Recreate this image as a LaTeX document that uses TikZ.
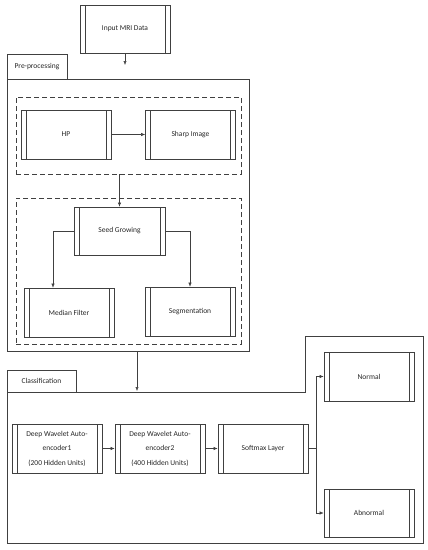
\documentclass[tikz,border=0pt]{standalone}
\usepackage{fontspec}
\setmainfont{Carlito}
\usetikzlibrary{arrows.meta}
\definecolor{ln}{HTML}{404040}
\tikzset{
  proc/.style={draw=ln, line width=0.6pt, minimum width=90pt, minimum height=49pt,
    inner sep=1pt, align=center, text=black!85,
    font=\fontsize{7.5}{14.5}\selectfont,
    path picture={
      \draw[ln, line width=0.5pt] ([xshift=5pt]path picture bounding box.north west) -- ([xshift=5pt]path picture bounding box.south west);
      \draw[ln, line width=0.5pt] ([xshift=-5pt]path picture bounding box.north east) -- ([xshift=-5pt]path picture bounding box.south east);
    }},
  grp/.style={draw=ln, line width=0.6pt},
  dbox/.style={draw=ln, line width=0.6pt, dash pattern=on 5pt off 3pt},
  tab/.style={draw=ln, line width=0.6pt, font=\fontsize{7.5}{9}\selectfont, text=black!85},
  arr/.style={draw=ln, line width=0.5pt, -{Latex[length=4pt,width=3.2pt]}},
  con/.style={draw=ln, line width=0.5pt},
}
\begin{document}
\begin{tikzpicture}[x=1pt,y=-1pt]
\useasboundingbox (0,0) rectangle (428,550);

% Pre-processing group
\node[grp, minimum width=242pt, minimum height=272pt, inner sep=0pt] (pre) at (128,215) {};
\node[tab, minimum width=60pt, minimum height=25pt, fill=white] (pretab) at (37,66.5) {Pre-processing};
\node[dbox, minimum width=225pt, minimum height=77pt, inner sep=0pt] (d1) at (128.5,135.5) {};
\node[dbox, minimum width=225pt, minimum height=146pt, inner sep=0pt] (d2) at (128.5,271) {};

% Classification group
\draw[grp] (7,392) -- (305,392) -- (305,336) -- (423,336) -- (423,543) -- (7,543) -- cycle;
\node[tab, minimum width=69pt, minimum height=22pt] (cltab) at (41.5,381) {Classification};

% Process nodes
\node[proc, minimum height=48pt] (in) at (125,29) {Input MRI Data};
\node[proc] (hp) at (66,134.5) {HP};
\node[proc] (sharp) at (190.5,134.5) {Sharp Image};
\node[proc, minimum width=91pt, minimum height=48pt] (seed) at (119.5,231) {Seed Growing};
\node[proc] (median) at (69,312.5) {Median Filter};
\node[proc] (seg) at (190,311.5) {Segmentation};
\node[proc] (dw1) at (57,448.5) {Deep Wavelet Auto-\\encoder1\\(200 Hidden Units)};
\node[proc] (dw2) at (160,448.5) {Deep Wavelet Auto-\\encoder2\\(400 Hidden Units)};
\node[proc] (soft) at (263,448.5) {Softmax Layer};
\node[proc] (normal) at (369,376.5) {Normal};
\node[proc, minimum height=48pt] (abnormal) at (369,513) {Abnormal};

% Connectors
\coordinate (inEnd) at (125,65);
\draw[arr] (in.south) -- (inEnd);
\draw[arr] (hp) -- (sharp);
\draw[arr] (d1.south -| seed.north) -- (seed.north);
\draw[arr] (seed.west) -| ([xshift=-16pt]median.north);
\draw[arr] (seed.east) -| (seg.north);
\coordinate (clEnd) at (137,391);
\draw[arr] (pre.south -| clEnd) -- (clEnd);
\draw[arr] (dw1) -- (dw2);
\draw[arr] (dw2) -- (soft);
\coordinate (split) at (316,448.5);
\draw[con] (soft.east) -- (split);
\draw[arr] (split) |- (normal.west);
\draw[arr] (split) |- (abnormal.west);
\end{tikzpicture}
\end{document}
